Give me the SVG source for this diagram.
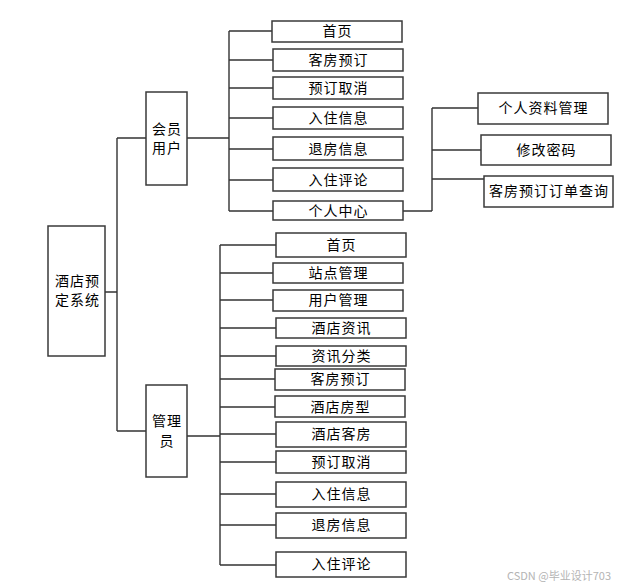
<svg xmlns="http://www.w3.org/2000/svg" width="624" height="587" viewBox="0 0 624 587">
<style>
.b{fill:#fff;stroke:#3a3a3a;stroke-width:1.5}
.t{font-family:"Noto Sans CJK SC","Liberation Sans",sans-serif;font-size:14px;fill:#000;text-anchor:middle;letter-spacing:1px}
.c{fill:none;stroke:#333;stroke-width:1.4}
.w{font-family:"Noto Sans CJK SC","Liberation Sans",sans-serif;font-size:11px;fill:#b4b4b4}
</style>
<rect width="624" height="587" fill="#fff"/>
<g id="connectors" class="c">
<path d="M105 292H117M117 138V431M117 138H146M117 431H146"/>
<path d="M187 138H229M229 31V211M229 31H272M229 60H273M229 88H273M229 118H273M229 149H273M229 180H273M229 211H273"/>
<path d="M403 211H432M432 108V211M432 108H478M432 150H481M432 179H484"/>
<path d="M187 436H220M220 245V565M220 245H276M220 273H273M220 300H273M220 328H276M220 356H276M220 379H275M220 407H275M220 434H276M220 462H276M220 494H276M220 525H276M220 565H276"/>
</g>
<g id="root"><rect class="b" x="48" y="226" width="57" height="130"/><text class="t" x="77.5" y="286">酒店预</text><text class="t" x="77.5" y="305">定系统</text></g>
<g id="member"><rect class="b" x="146" y="92" width="41" height="93"/><text class="t" x="167" y="134">会员</text><text class="t" x="167" y="153">用户</text></g>
<g id="m1"><rect class="b" x="272" y="21" width="130" height="21"/><text class="t" x="337.5" y="36">首页</text></g>
<g id="m2"><rect class="b" x="273" y="49" width="130" height="22"/><text class="t" x="338.5" y="65">客房预订</text></g>
<g id="m3"><rect class="b" x="273" y="77" width="130" height="22"/><text class="t" x="338.5" y="93">预订取消</text></g>
<g id="m4"><rect class="b" x="273" y="107" width="130" height="22"/><text class="t" x="338.5" y="123">入住信息</text></g>
<g id="m5"><rect class="b" x="273" y="137" width="130" height="23"/><text class="t" x="338.5" y="154">退房信息</text></g>
<g id="m6"><rect class="b" x="273" y="168" width="130" height="23"/><text class="t" x="338.5" y="185">入住评论</text></g>
<g id="m7"><rect class="b" x="273" y="201" width="130" height="19"/><text class="t" x="338.5" y="216">个人中心</text></g>
<g id="p1"><rect class="b" x="478" y="93" width="130" height="31"/><text class="t" x="543.5" y="113">个人资料管理</text></g>
<g id="p2"><rect class="b" x="481" y="135" width="130" height="30"/><text class="t" x="546.5" y="155">修改密码</text></g>
<g id="p3"><rect class="b" x="484" y="176" width="129" height="31"/><text class="t" x="549" y="196">客房预订订单查询</text></g>
<g id="admin"><rect class="b" x="146" y="385" width="41" height="92"/><text class="t" x="167" y="426">管理</text><text class="t" x="167" y="446">员</text></g>
<g id="a1"><rect class="b" x="276" y="233" width="130" height="24"/><text class="t" x="341.5" y="250">首页</text></g>
<g id="a2"><rect class="b" x="273" y="263" width="130" height="20"/><text class="t" x="338.5" y="278">站点管理</text></g>
<g id="a3"><rect class="b" x="273" y="290" width="130" height="21"/><text class="t" x="338.5" y="305">用户管理</text></g>
<g id="a4"><rect class="b" x="276" y="318" width="130" height="20"/><text class="t" x="341.5" y="333">酒店资讯</text></g>
<g id="a5"><rect class="b" x="276" y="346" width="130" height="20"/><text class="t" x="341.5" y="361">资讯分类</text></g>
<g id="a6"><rect class="b" x="275" y="369" width="130" height="21"/><text class="t" x="340.5" y="384">客房预订</text></g>
<g id="a7"><rect class="b" x="275" y="396" width="130" height="21"/><text class="t" x="340.5" y="412">酒店房型</text></g>
<g id="a8"><rect class="b" x="276" y="422" width="130" height="25"/><text class="t" x="341.5" y="439">酒店客房</text></g>
<g id="a9"><rect class="b" x="276" y="451" width="130" height="22"/><text class="t" x="341.5" y="467">预订取消</text></g>
<g id="a10"><rect class="b" x="276" y="482" width="130" height="25"/><text class="t" x="341.5" y="499">入住信息</text></g>
<g id="a11"><rect class="b" x="276" y="513" width="130" height="25"/><text class="t" x="341.5" y="530">退房信息</text></g>
<g id="a12"><rect class="b" x="276" y="552" width="130" height="25"/><text class="t" x="341.5" y="569">入住评论</text></g>
<text class="w" x="507" y="580">CSDN @毕业设计703</text>
</svg>
